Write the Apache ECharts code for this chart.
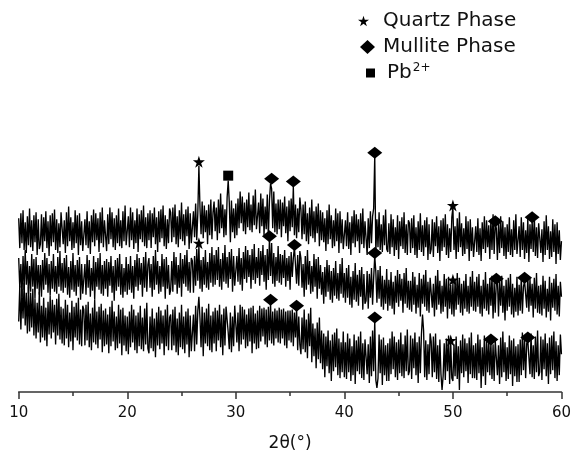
<!DOCTYPE html>
<html><head><meta charset="utf-8">
<script src="https://cdn.jsdelivr.net/npm/echarts@6/dist/echarts.min.js"></script>
<style>html,body{margin:0;padding:0;background:#fff}#c{width:574px;height:457px}</style>
</head><body><div id="c"></div>
<script>
// 2-theta sampling of the traces (10 .. 60 deg)
const startAngle = 10, stepAngle = 0.1;
// intensity (arbitrary units, offset stacked), 20 points per 2 degrees
const topTrace = [
175,145,180,150,183,143,171,140,177,148,185,146,173,142,178,151,181,138,174,144,
149,179,141,176,152,182,145,172,137,178,147,180,151,184,143,174,140,170,146,181,
179,149,173,140,181,147,187,152,176,143,171,145,183,150,178,138,180,148,172,142,
143,174,148,182,145,172,139,178,151,184,147,180,153,175,141,181,150,186,146,173,
174,142,179,149,186,154,181,146,175,143,178,150,185,147,173,145,182,152,188,148,
148,177,146,186,153,181,144,173,150,185,141,179,154,183,151,188,147,176,145,180,
153,183,145,180,156,186,149,176,141,182,151,184,155,188,147,178,144,174,150,185,
181,151,186,156,189,149,177,146,183,154,191,152,179,148,184,157,187,144,180,150,
151,182,156,190,153,180,228,186,159,192,155,188,161,183,149,189,158,194,154,181,
192,162,186,153,194,160,200,165,189,156,184,158,196,213,191,151,193,161,185,155,
190,158,195,165,202,170,197,162,191,159,194,166,201,163,189,161,198,168,204,164,
162,191,160,200,167,195,158,187,164,199,155,193,210,205,165,202,161,190,159,194,
164,194,156,191,167,197,160,187,152,193,162,195,166,207,158,189,155,185,161,196,
184,154,189,159,192,152,180,149,186,157,194,155,182,151,187,160,190,147,183,153,
181,151,175,142,183,149,189,154,178,145,173,147,185,152,180,140,182,150,174,144,
142,173,147,181,144,171,138,177,150,183,146,179,152,174,140,180,149,185,145,172,
170,138,175,145,182,150,177,185,238,139,174,146,181,143,169,141,178,148,184,144,
141,170,139,179,146,174,137,166,143,178,134,172,147,176,144,181,140,169,138,173,
170,140,175,145,178,138,166,135,172,143,180,141,168,137,173,146,176,133,169,139,
144,174,136,171,147,177,140,167,132,173,142,175,146,179,138,169,135,165,141,176,
186,143,167,134,175,141,181,146,170,137,165,139,177,144,172,132,174,142,166,136,
136,167,141,175,138,165,132,171,144,177,140,173,146,168,134,174,143,179,139,170,
165,133,170,140,177,145,172,137,166,134,169,141,176,138,164,136,173,143,179,139,
138,167,136,176,143,171,134,163,140,175,131,169,144,173,141,178,137,166,135,170,
170,140,164,131,172,138,178,143,167,134,162,136,174,141,169,129,171,139,163,133,
152];
const midTrace = [
135,105,129,96,137,103,143,108,132,99,127,101,139,106,134,94,136,104,128,98,
128,96,133,103,140,108,135,100,129,97,132,104,139,101,127,99,136,106,142,102,
130,100,135,105,138,98,126,95,132,103,140,101,128,97,133,106,136,93,129,99,
100,129,98,138,105,133,96,125,102,137,93,131,106,135,103,140,99,128,97,132,
104,134,96,131,107,137,100,127,92,133,102,135,106,139,98,129,95,125,101,136,
98,129,103,137,100,127,94,133,106,139,102,135,108,130,96,136,105,141,101,128,
135,105,129,96,137,103,143,108,132,99,127,101,139,106,134,94,136,104,128,98,
103,132,101,141,108,136,99,128,105,140,96,134,109,138,106,143,102,131,100,135,
132,100,137,107,144,112,148,104,133,101,136,108,143,105,131,103,140,110,146,106,
138,108,143,113,146,106,134,103,140,111,148,109,136,105,141,114,144,101,137,107,
106,137,111,145,108,135,102,141,114,147,110,143,116,138,104,144,113,149,109,136,
115,145,107,142,118,148,111,138,103,144,113,155,117,150,109,140,106,136,112,147,
110,139,108,138,115,143,106,135,112,137,103,141,116,135,146,128,109,138,107,142,
135,105,129,96,137,103,143,108,132,99,127,101,139,106,134,94,136,104,128,98,
121,89,126,96,133,101,128,93,122,90,125,97,132,94,120,92,129,99,135,95,
120,90,125,95,128,88,116,85,122,93,130,91,118,87,123,96,126,83,119,89,
92,122,84,119,95,125,88,115,137,121,90,123,94,127,86,117,83,113,89,124,
82,113,87,121,84,111,78,117,90,123,86,119,92,114,80,120,89,125,85,112,
83,112,81,121,88,116,79,108,85,120,76,114,89,118,86,123,82,111,80,115,
115,85,109,76,117,83,123,88,112,79,107,81,119,86,114,74,116,84,108,78,
110,76,113,83,120,88,115,80,109,77,112,84,119,81,107,79,116,86,122,82,
111,81,116,86,119,79,107,76,113,84,121,82,109,78,114,87,117,74,110,80,
111,114,76,111,87,117,80,107,72,113,82,115,86,119,78,109,75,105,81,116,
77,108,82,116,79,106,112,112,85,118,81,114,87,109,75,115,84,120,80,107,
79,108,77,117,84,112,75,104,81,116,72,110,85,114,82,119,78,107,76,111,
96];
const botTrace = [
71,107,63,104,74,110,67,100,59,106,61,100,65,104,57,94,54,90,60,101,
50,87,55,95,52,85,46,91,58,97,54,93,60,88,48,94,57,99,53,86,
49,84,47,93,54,88,45,80,51,92,42,86,55,90,52,95,48,83,46,87,
83,47,88,52,91,45,79,42,85,50,93,48,81,44,86,53,89,40,82,46,
84,48,78,39,86,46,92,51,81,42,76,44,88,49,83,37,85,47,77,41,
76,38,81,45,88,50,83,42,77,39,80,46,87,43,75,41,84,48,90,44,
39,76,44,84,41,74,35,80,47,86,43,82,49,77,37,83,46,88,42,75,
78,42,83,47,86,40,74,37,80,45,88,43,76,39,81,48,84,35,77,41,
43,78,41,87,48,82,96,74,45,86,36,80,49,84,46,89,42,77,40,81,
49,85,41,82,52,88,45,78,37,84,47,86,88,60,43,80,40,76,46,87,
86,50,80,41,88,48,86,53,83,44,78,46,84,51,85,39,87,49,79,43,
82,44,87,51,84,56,85,48,83,45,86,52,90,49,81,47,84,54,82,50,
85,49,83,54,84,47,81,44,82,52,82,50,83,46,80,55,85,42,76,48,
38,75,43,83,40,73,34,79,46,85,30,69,36,64,24,70,33,75,29,62,
23,59,15,56,26,62,19,52,11,58,21,60,25,64,17,54,14,50,20,61,
15,50,13,59,20,54,11,46,17,58,8,52,21,56,18,61,14,49,12,53,
54,18,48,9,56,16,62,21,72,12,4,14,58,19,53,7,55,17,47,11,
49,11,54,18,61,23,56,15,50,12,53,19,60,16,48,14,57,21,63,17,
21,57,13,54,24,60,17,50,9,56,19,58,78,62,15,52,12,48,18,59,
51,15,56,20,59,13,47,10,53,18,2,16,49,12,54,21,57,8,50,14,
11,48,16,56,13,46,2,52,19,58,15,54,21,49,9,55,18,60,14,47,
14,49,12,58,19,53,4,45,16,57,7,51,20,55,17,50,13,48,11,52,
53,17,47,8,55,15,61,20,50,11,45,13,57,18,52,6,54,16,46,10,
48,10,53,17,60,22,55,14,49,52,52,18,59,15,47,13,56,20,62,16,
20,56,12,53,23,59,16,49,8,55,18,57,22,61,14,51,11,47,17,58,
38];
// phase markers [2theta, intensity]
const quartzMarks = [[26.6,232],[26.6,150],[50.0,188],[50.0,113],[49.8,52]];
const mulliteMarks = [[33.3,215],[35.3,212],[42.8,241],[53.9,172],[57.3,176],
                      [33.1,157],[35.4,148],[42.8,140],[54.0,114],[56.6,115],
                      [33.2,93],[35.6,87],[42.8,75],[53.5,53],[56.9,55]];
const pbMarks = [[29.3,218]];
const xMin = 10, xMax = 60, xInterval = 10;
const phaseNames = ['Quartz Phase','Mullite Phase','Pb2+'];

const STAR = 'path://M50,0L61.2,34.5L97.6,34.5L68.2,55.9L79.4,90.5L50,69.1L20.6,90.5L31.8,55.9L2.4,34.5L38.8,34.5Z';
const FONT = 'DejaVu Sans';
function toPairs(arr){ return arr.map((v,i)=>[+(startAngle+i*stepAngle).toFixed(2), v]); }
function lineSeries(d){ return {type:'line', data:toPairs(d), showSymbol:false, symbol:'none',
  lineStyle:{color:'#000', width:1.35}, itemStyle:{color:'#000'}, z:2, silent:true, animation:false}; }

const chart = echarts.init(document.getElementById('c'), null, {renderer:'canvas'});
const legTxt = {fontFamily:FONT, fontSize:20, color:'#111'};
const legBase = {padding:0, selectedMode:false, itemStyle:{color:'#000', opacity:1}};
chart.setOption({
  animation:false,
  backgroundColor:'#fff',
  grid:{left:18.7, right:11.3, top:0, bottom:62, containLabel:false},
  legend:[
    Object.assign({data:[{name:phaseNames[0], icon:STAR}], left:358, top:11, itemWidth:11, itemHeight:11,
     textStyle:Object.assign({padding:[0,0,0,9]}, legTxt)}, legBase),
    Object.assign({data:[{name:phaseNames[1], icon:'diamond'}], left:360, top:37, itemWidth:15, itemHeight:14,
     textStyle:Object.assign({padding:[0,0,0,3]}, legTxt)}, legBase),
    Object.assign({data:[{name:phaseNames[2], icon:'rect'}], left:366, top:62, itemWidth:9, itemHeight:9,
     formatter:()=>'{b|Pb}{s|2+}',
     textStyle:Object.assign({padding:[0,0,0,7], rich:{
       b:{fontFamily:FONT, fontSize:20, color:'#111', lineHeight:22},
       s:{fontFamily:FONT, fontSize:12, color:'#111', verticalAlign:'top', lineHeight:22, padding:[0,0,0,1]}
     }}, legTxt)}, legBase)
  ],
  xAxis:{type:'value', min:xMin, max:xMax, interval:xInterval,
    name:'2θ(°)', nameLocation:'middle', nameGap:43,
    nameTextStyle:{fontFamily:FONT, fontSize:17, color:'#111'},
    axisLine:{show:true, onZero:false, lineStyle:{color:'#333', width:1.5}},
    axisTick:{show:true, inside:false, length:7, lineStyle:{color:'#333', width:1.5}},
    minorTick:{show:true, splitNumber:2, length:4, lineStyle:{color:'#333', width:1.5}},
    axisLabel:{fontFamily:FONT, fontSize:15, color:'#111', margin:14},
    splitLine:{show:false}, minorSplitLine:{show:false}},
  yAxis:{type:'value', min:0, max:395, show:false, splitLine:{show:false}},
  series:[
    lineSeries(topTrace), lineSeries(midTrace), lineSeries(botTrace),
    {type:'scatter', name:phaseNames[0], data:quartzMarks, symbol:STAR, symbolSize:12, itemStyle:{color:'#000', opacity:1}, z:5, silent:true},
    {type:'scatter', name:phaseNames[1], data:mulliteMarks, symbol:'diamond', symbolSize:[15,12], itemStyle:{color:'#000', opacity:1}, z:5, silent:true},
    {type:'scatter', name:phaseNames[2], data:pbMarks, symbol:'rect', symbolSize:10, itemStyle:{color:'#000', opacity:1}, z:5, silent:true}
  ]
});
</script></body></html>
